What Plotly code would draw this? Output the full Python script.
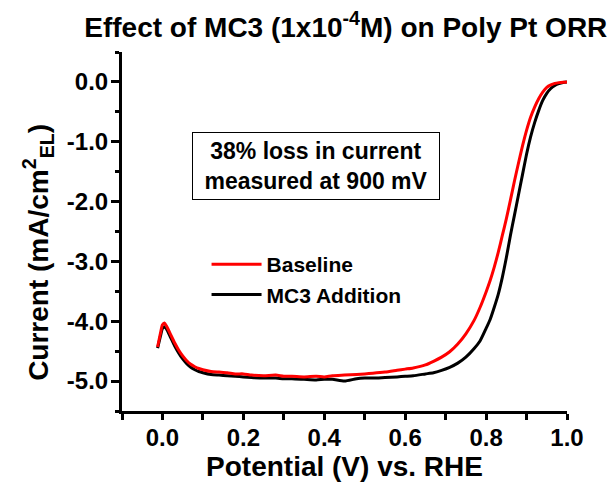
import plotly.graph_objects as go

potential = [-0.012, -0.005, 0.0, 0.005, 0.01, 0.02, 0.03, 0.04, 0.05, 0.06, 0.07, 0.08, 0.09, 0.10,
             0.12, 0.14, 0.16, 0.18, 0.20, 0.22, 0.25, 0.28, 0.30, 0.32, 0.35, 0.38, 0.40, 0.42, 0.45,
             0.48, 0.50, 0.52, 0.55, 0.58, 0.60, 0.62, 0.65, 0.67, 0.69, 0.71, 0.73, 0.75, 0.77, 0.785,
             0.80, 0.81, 0.82, 0.83, 0.84, 0.85, 0.86, 0.87, 0.88, 0.89, 0.90, 0.91, 0.92, 0.93, 0.94,
             0.95, 0.96, 0.97, 0.98, 0.99, 1.0]

baseline = [-4.43, -4.20, -4.06, -4.03, -4.08, -4.22, -4.36, -4.48, -4.58, -4.66, -4.72, -4.76, -4.79, -4.81,
            -4.84, -4.85, -4.86, -4.88, -4.88, -4.90, -4.91, -4.90, -4.92, -4.92, -4.93, -4.92, -4.93, -4.91, -4.90,
            -4.89, -4.88, -4.87, -4.85, -4.82, -4.80, -4.78, -4.73, -4.67, -4.60, -4.51, -4.38, -4.21, -3.99, -3.77,
            -3.51, -3.32, -3.10, -2.85, -2.57, -2.29, -1.98, -1.66, -1.36, -1.07, -0.81, -0.59, -0.42, -0.28, -0.17,
            -0.09, -0.05, -0.025, -0.012, -0.004, 0.0]

mc3_addition = [-4.45, -4.25, -4.12, -4.09, -4.13, -4.27, -4.41, -4.53, -4.63, -4.71, -4.77, -4.81, -4.84, -4.86,
                -4.89, -4.90, -4.91, -4.92, -4.93, -4.94, -4.95, -4.95, -4.96, -4.96, -4.97, -4.98, -4.97, -4.97, -5.00,
                -4.96, -4.95, -4.95, -4.94, -4.93, -4.92, -4.91, -4.88, -4.86, -4.82, -4.77, -4.70, -4.60, -4.46, -4.33,
                -4.12, -3.97, -3.77, -3.55, -3.27, -2.94, -2.57, -2.23, -1.89, -1.55, -1.21, -0.92, -0.68, -0.48, -0.31,
                -0.19, -0.11, -0.06, -0.03, -0.01, 0.0]

x_tickvals = [0.0, 0.2, 0.4, 0.6, 0.8, 1.0]
x_ticktext = ["0.0", "0.2", "0.4", "0.6", "0.8", "1.0"]
y_tickvals = [0.0, -1.0, -2.0, -3.0, -4.0, -5.0]
y_ticktext = ["0.0", "-1.0", "-2.0", "-3.0", "-4.0", "-5.0"]

FONT = "Liberation Sans"

fig = go.Figure()
fig.add_trace(go.Scatter(x=potential, y=mc3_addition, mode="lines", name="MC3 Addition",
                         line=dict(color="black", width=3, shape="spline", smoothing=0.6),
                         legendrank=2))
fig.add_trace(go.Scatter(x=potential, y=baseline, mode="lines", name="Baseline",
                         line=dict(color="#ff0000", width=3, shape="spline", smoothing=0.6),
                         legendrank=1))

axis_common = dict(showline=True, linecolor="black", linewidth=3, ticks="outside", tickwidth=3,
                   tickcolor="black", showgrid=False, zeroline=False, mirror=False,
                   tickfont=dict(family=FONT, size=24, color="black", weight="bold"))

fig.update_xaxes(range=[-0.1, 1.0], tickvals=x_tickvals, ticktext=x_ticktext, ticklen=6,
                 ticklabelstandoff=-3,
                 minor=dict(dtick=0.1, tick0=0, ticks="outside", ticklen=6, tickwidth=3, tickcolor="black"),
                 title=dict(text="Potential (V) vs. RHE", font=dict(family=FONT, size=28, color="black", weight="bold"), standoff=6),
                 **axis_common)
fig.update_yaxes(range=[-5.5, 0.5], tickvals=y_tickvals, ticktext=y_ticktext, ticklen=8,
                 ticklabelstandoff=-2,
                 minor=dict(dtick=0.5, tick0=0, ticks="outside", ticklen=4, tickwidth=3, tickcolor="black"),
                 **axis_common)

fig.update_layout(
    width=611, height=491,
    margin=dict(l=122, r=44, t=52, b=80),
    paper_bgcolor="white", plot_bgcolor="white",
    title=dict(text="Effect of MC3 (1x10<sup>-4</sup>M) on Poly Pt ORR", x=0.566, xanchor="center",
               y=0.945, yanchor="middle", font=dict(family=FONT, size=28, color="black", weight="bold")),
    legend=dict(x=0.19, y=0.465, xanchor="left", yanchor="top", bgcolor="rgba(0,0,0,0)",
                font=dict(family=FONT, size=21, color="black", weight="bold"), itemwidth=50,
                tracegroupgap=0),
    annotations=[
        dict(text="38% loss in current<br>measured at 900 mV", xref="paper", yref="paper",
             x=0.436, y=0.682, xanchor="center", yanchor="middle", showarrow=False,
             align="center", bordercolor="black", borderwidth=1, borderpad=3,
             width=240, height=60,
             font=dict(family=FONT, size=23, color="black", weight="bold")),
        dict(text="Current (mA/cm<sup>2</sup><sub>EL</sub>)", xref="paper", yref="paper",
             x=-0.189, y=0.443, xanchor="center", yanchor="middle", showarrow=False, textangle=-90,
             font=dict(family=FONT, size=28, color="black", weight="bold")),
    ],
)

fig.write_html("out.html")
